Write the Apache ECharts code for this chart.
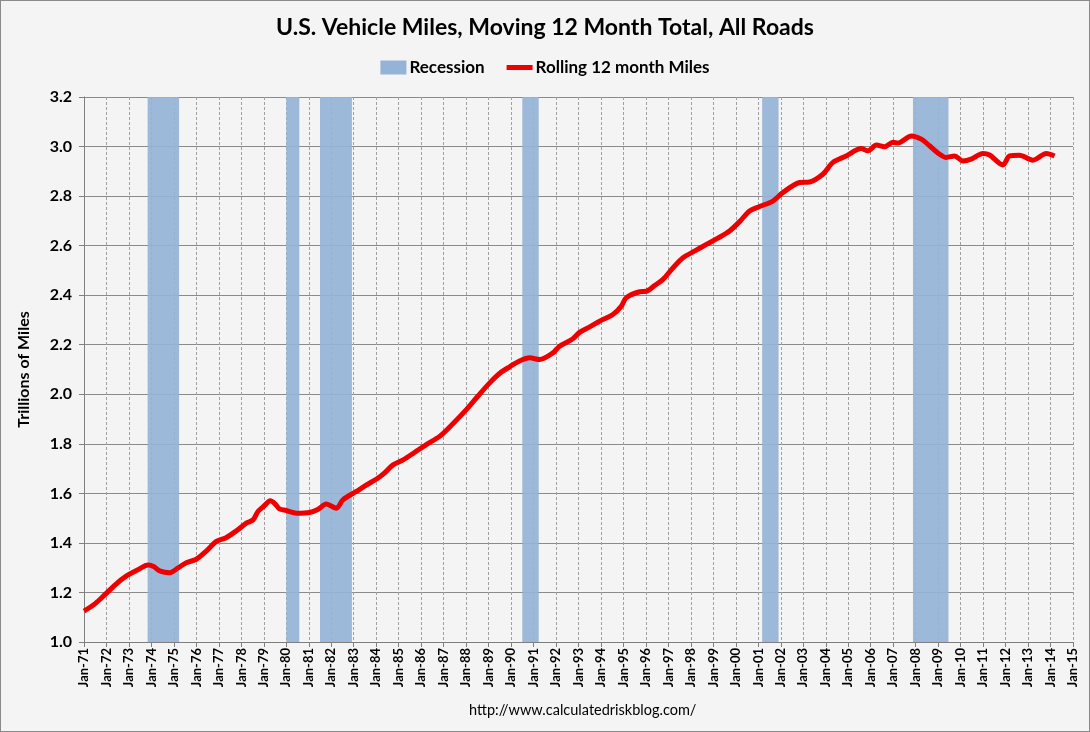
<!DOCTYPE html>
<html>
<head>
<meta charset="utf-8">
<script src="https://cdn.jsdelivr.net/npm/echarts@6/dist/echarts.min.js"></script>
<style>
html,body{margin:0;padding:0;background:#f4f4f4;}
#c{width:1090px;height:732px;box-sizing:border-box;border:1px solid #8a8a8a;}
</style>
</head>
<body>
<div id="c"></div>
<script>
// Decimal year of each reading and the rolling 12 month total (trillions of miles)
var years = [1971.00,1971.50,1971.92,1972.40,1972.89,1973.40,1973.85,1974.10,1974.37,1974.81,
1975.20,1975.55,1976.00,1976.45,1976.89,1977.30,1977.80,1978.22,1978.52,1978.74,
1979.00,1979.29,1979.50,1979.70,1980.00,1980.45,1981.04,1981.40,1981.78,1982.23,
1982.52,1983.12,1983.50,1984.08,1984.40,1984.75,1985.20,1985.70,1986.23,1986.82,
1987.40,1988.01,1988.50,1989.05,1989.50,1989.94,1990.40,1990.83,1991.27,1991.86,
1992.16,1992.75,1993.05,1993.50,1993.94,1994.53,1994.90,1995.13,1995.72,1996.02,
1996.40,1996.76,1997.20,1997.65,1998.20,1998.69,1999.20,1999.72,2000.20,2000.61,
2001.06,2001.65,2002.09,2002.84,2003.28,2003.87,2004.32,2004.91,2005.58,2005.88,
2006.25,2006.62,2006.99,2007.21,2007.81,2008.25,2008.62,2009.07,2009.36,2009.73,
2010.10,2010.47,2010.99,2011.29,2011.88,2012.18,2012.62,2013.22,2013.81,2014.18];
var miles = [1.125,1.155,1.190,1.232,1.267,1.292,1.311,1.305,1.287,1.280,
1.300,1.320,1.334,1.368,1.406,1.420,1.450,1.480,1.493,1.527,
1.548,1.570,1.558,1.537,1.531,1.520,1.523,1.535,1.557,1.540,
1.574,1.608,1.630,1.662,1.685,1.715,1.735,1.765,1.797,1.830,
1.880,1.938,1.990,2.046,2.085,2.111,2.135,2.147,2.140,2.167,
2.194,2.224,2.250,2.272,2.295,2.322,2.355,2.390,2.414,2.416,
2.440,2.464,2.510,2.551,2.580,2.605,2.630,2.659,2.700,2.740,
2.758,2.780,2.814,2.855,2.857,2.888,2.936,2.962,2.992,2.983,
3.006,2.999,3.017,3.014,3.043,3.030,3.003,2.969,2.956,2.962,
2.942,2.949,2.972,2.966,2.926,2.962,2.965,2.945,2.972,2.962];
// Recession periods (decimal years)
var recessionStarts = [1973.83, 1980.00, 1981.50, 1990.50, 2001.17, 2007.88];
var recessionEnds   = [1975.23, 1980.58, 1982.92, 1991.23, 2001.90, 2009.46];
var yTicks = {min: 1.0, max: 3.2, interval: 0.2};
var xTicks = {min: 1971, max: 2015, interval: 1};

var lineData = years.map(function(y, i){ return [y, miles[i]]; });
var areas = recessionStarts.map(function(s, i){ return [{xAxis: s}, {xAxis: recessionEnds[i]}]; });

var font = 'Lato, "Open Sans", sans-serif';
var chart = echarts.init(document.getElementById('c'));
chart.setOption({
  backgroundColor: '#f4f4f4',
  animation: false,
  title: [{
    text: 'U.S. Vehicle Miles, Moving 12 Month Total, All Roads',
    left: 'center', top: 10,
    textStyle: {fontFamily: font, fontSize: 23, fontWeight: 'bold', color: '#000'}
  }, {
    text: 'http://www.calculatedriskblog.com/',
    left: 463, top: 697,
    textStyle: {fontFamily: font, fontSize: 14.5, fontWeight: 'normal', color: '#000'}
  }],
  legend: {
    top: 53, left: 'center', itemGap: 22, itemWidth: 26, itemHeight: 14,
    textStyle: {fontFamily: font, fontSize: 17, fontWeight: 'bold', color: '#000', padding: [0,0,0,-2]},
    data: [{name: 'Recession', icon: 'rect'},
           {name: 'Rolling 12 month Miles', icon: 'path://M0,0H26V5H0Z'}]
  },
  grid: {left: 83, right: 16, top: 96, bottom: 89, containLabel: false},
  xAxis: {
    type: 'value', min: xTicks.min, max: xTicks.max, interval: xTicks.interval,
    axisLine: {lineStyle: {color: '#7f7f7f', width: 1}},
    axisTick: {show: true, length: 5, lineStyle: {color: '#7f7f7f'}},
    axisLabel: {
      rotate: 90, fontFamily: font, fontSize: 13, fontWeight: 'bold', color: '#000', margin: 6,
      formatter: function(v){ return 'Jan-' + String(Math.round(v)).slice(2); }
    },
    splitLine: {show: true, lineStyle: {color: '#a0a0a0', type: [3,2], width: 1}}
  },
  yAxis: {
    type: 'value', min: yTicks.min, max: yTicks.max, interval: yTicks.interval,
    name: 'Trillions of Miles', nameLocation: 'middle', nameGap: 52, nameRotate: 90,
    nameTextStyle: {fontFamily: font, fontSize: 16, fontWeight: 'bold', color: '#000'},
    axisLine: {show: true, lineStyle: {color: '#7f7f7f', width: 1}},
    axisTick: {show: true, length: 5, inside: false, lineStyle: {color: '#7f7f7f'}},
    axisLabel: {fontFamily: font, fontSize: 16, fontWeight: 'bold', color: '#000', margin: 12,
      formatter: function(v){ return v.toFixed(1); }},
    splitLine: {show: true, lineStyle: {color: '#8a8a8a', width: 1}}
  },
  series: [
    {
      name: 'Recession', type: 'line', data: [],
      itemStyle: {color: '#95b3d7'}, lineStyle: {color: '#95b3d7'},
      markArea: {silent: true, itemStyle: {color: '#95b3d7', opacity: 0.92}, data: areas}
    },
    {
      name: 'Rolling 12 month Miles', type: 'line', data: lineData,
      symbol: 'none', smooth: 0.3, z: 5,
      itemStyle: {color: '#ee0000'},
      lineStyle: {color: '#ee0000', width: 5}
    }
  ]
});
</script>
</body>
</html>
